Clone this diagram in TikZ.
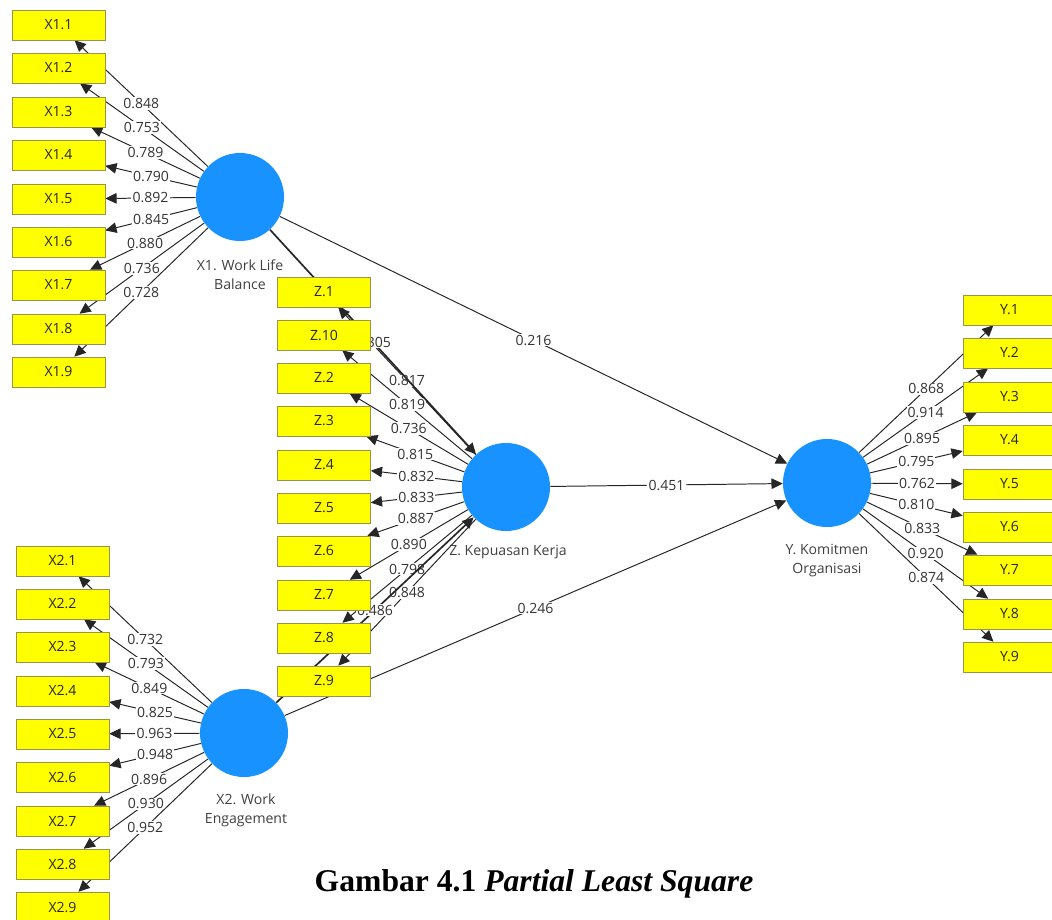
\documentclass[tikz,border=0pt]{standalone}
\usepackage{fontspec}
\setmainfont{Liberation Serif}
\newfontfamily\plsfont{Open Sans}
\usetikzlibrary{arrows.meta, backgrounds}
\definecolor{plsblue}{RGB}{24,146,255}
\definecolor{plsyellow}{RGB}{255,255,0}

\begin{document}
\begin{tikzpicture}[x = 0.025cm, y = -0.025cm,
    >= {Triangle[length = 8pt, width = 7.5pt]},
    indicator/.style = {draw = yellow!55!black, fill = plsyellow, minimum width = 2.325cm, minimum height = 0.75cm, inner sep = 0pt, font = \plsfont\fontsize{10}{12}\selectfont, text = black!85},
    construct/.style = {circle, fill = plsblue, minimum size = 2.2cm, inner sep = 0pt},
    construct label/.style = {align = center, font = \plsfont\fontsize{10}{13.5}\selectfont, text = black!75},
    loading/.style = {fill = white, inner sep = 0.8pt, font = \plsfont\fontsize{10}{12}\selectfont, text = black!80},
    link/.style = {->, draw = black!85, line width = 0.7pt}]
    \useasboundingbox (0, 0) rectangle (1052, 920);
    \clip (0, 0) rectangle (1052, 920);

    % latent variables
    \node[construct] (work life balance) at (240, 197) {};
    \node[construct] (kepuasan kerja) at (506, 487) {};
    \node[construct] (work engagement) at (244, 733) {};
    \node[construct] (komitmen organisasi) at (827, 483) {};
    \node[construct label] (work life balance label) at (240, 275) {X1. Work Life \\ Balance};
    \node[construct label] (kepuasan kerja label) at (508, 552) {Z. Kepuasan Kerja};
    \node[construct label] (work engagement label) at (246, 810) {X2. Work \\ Engagement};
    \node[construct label] (komitmen organisasi label) at (827, 561) {Y. Komitmen \\ Organisasi};

    % X1 indicators
    \node[indicator] (x1 1) at (58.5, 25) {X1.1};
    \node[indicator] (x1 2) at (58.5, 68) {X1.2};
    \node[indicator] (x1 3) at (58.5, 112) {X1.3};
    \node[indicator] (x1 4) at (58.5, 155) {X1.4};
    \node[indicator] (x1 5) at (58.5, 199) {X1.5};
    \node[indicator] (x1 6) at (58.5, 242) {X1.6};
    \node[indicator] (x1 7) at (58.5, 285) {X1.7};
    \node[indicator] (x1 8) at (58.5, 329) {X1.8};
    \node[indicator] (x1 9) at (58.5, 372) {X1.9};

    % Z indicators
    \node[indicator] (z 1) at (324, 292) {Z.1};
    \node[indicator] (z 10) at (324, 335) {Z.10};
    \node[indicator] (z 2) at (324, 378) {Z.2};
    \node[indicator] (z 3) at (324, 421) {Z.3};
    \node[indicator] (z 4) at (324, 465) {Z.4};
    \node[indicator] (z 5) at (324, 508) {Z.5};
    \node[indicator] (z 6) at (324, 551) {Z.6};
    \node[indicator] (z 7) at (324, 595) {Z.7};
    \node[indicator] (z 8) at (324, 638) {Z.8};
    \node[indicator] (z 9) at (324, 681) {Z.9};

    % X2 indicators
    \node[indicator] (x2 1) at (62.5, 561) {X2.1};
    \node[indicator] (x2 2) at (62.5, 604) {X2.2};
    \node[indicator] (x2 3) at (62.5, 647) {X2.3};
    \node[indicator] (x2 4) at (62.5, 691) {X2.4};
    \node[indicator] (x2 5) at (62.5, 734) {X2.5};
    \node[indicator] (x2 6) at (62.5, 777) {X2.6};
    \node[indicator] (x2 7) at (62.5, 821) {X2.7};
    \node[indicator] (x2 8) at (62.5, 864) {X2.8};
    \node[indicator] (x2 9) at (62.5, 907) {X2.9};

    % Y indicators
    \node[indicator] (y 1) at (1009.5, 310) {Y.1};
    \node[indicator] (y 2) at (1009.5, 353) {Y.2};
    \node[indicator] (y 3) at (1009.5, 397) {Y.3};
    \node[indicator] (y 4) at (1009.5, 440) {Y.4};
    \node[indicator] (y 5) at (1009.5, 484) {Y.5};
    \node[indicator] (y 6) at (1009.5, 527) {Y.6};
    \node[indicator] (y 7) at (1009.5, 570) {Y.7};
    \node[indicator] (y 8) at (1009.5, 614) {Y.8};
    \node[indicator] (y 9) at (1009.5, 657) {Y.9};

    \node[font = \bfseries\fontsize{22.5}{26}\selectfont] (caption) at (534, 884) {Gambar 4.1 \textit{Partial Least Square}};

    \begin{scope}[on background layer]
    % outer loadings
    \draw[link] (work life balance) -- node[loading] {0.848} (x1 1);
    \draw[link] (work life balance) -- node[loading] {0.753} (x1 2);
    \draw[link] (work life balance) -- node[loading] {0.789} (x1 3);
    \draw[link] (work life balance) -- node[loading] {0.790} (x1 4);
    \draw[link] (work life balance) -- node[loading] {0.892} (x1 5);
    \draw[link] (work life balance) -- node[loading] {0.845} (x1 6);
    \draw[link] (work life balance) -- node[loading] {0.880} (x1 7);
    \draw[link] (work life balance) -- node[loading] {0.736} (x1 8);
    \draw[link] (work life balance) -- node[loading] {0.728} (x1 9);

    \draw[link] (kepuasan kerja) -- node[loading] {0.817} (z 1);
    \draw[link] (kepuasan kerja) -- node[loading] {0.819} (z 10);
    \draw[link] (kepuasan kerja) -- node[loading] {0.736} (z 2);
    \draw[link] (kepuasan kerja) -- node[loading] {0.815} (z 3);
    \draw[link] (kepuasan kerja) -- node[loading] {0.832} (z 4);
    \draw[link] (kepuasan kerja) -- node[loading] {0.833} (z 5);
    \draw[link] (kepuasan kerja) -- node[loading] {0.887} (z 6);
    \draw[link] (kepuasan kerja) -- node[loading] {0.890} (z 7);
    \draw[link] (kepuasan kerja) -- node[loading] {0.798} (z 8);
    \draw[link] (kepuasan kerja) -- node[loading] {0.848} (z 9);

    \draw[link] (work engagement) -- node[loading] {0.732} (x2 1);
    \draw[link] (work engagement) -- node[loading] {0.793} (x2 2);
    \draw[link] (work engagement) -- node[loading] {0.849} (x2 3);
    \draw[link] (work engagement) -- node[loading] {0.825} (x2 4);
    \draw[link] (work engagement) -- node[loading] {0.963} (x2 5);
    \draw[link] (work engagement) -- node[loading] {0.948} (x2 6);
    \draw[link] (work engagement) -- node[loading] {0.896} (x2 7);
    \draw[link] (work engagement) -- node[loading] {0.930} (x2 8);
    \draw[link] (work engagement) -- node[loading] {0.952} (x2 9);

    \draw[link] (komitmen organisasi) -- node[loading] {0.868} (y 1);
    \draw[link] (komitmen organisasi) -- node[loading] {0.914} (y 2);
    \draw[link] (komitmen organisasi) -- node[loading] {0.895} (y 3);
    \draw[link] (komitmen organisasi) -- node[loading] {0.795} (y 4);
    \draw[link] (komitmen organisasi) -- node[loading] {0.762} (y 5);
    \draw[link] (komitmen organisasi) -- node[loading] {0.810} (y 6);
    \draw[link] (komitmen organisasi) -- node[loading] {0.833} (y 7);
    \draw[link] (komitmen organisasi) -- node[loading] {0.920} (y 8);
    \draw[link] (komitmen organisasi) -- node[loading] {0.874} (y 9);

    % path coefficients
    \draw[link, line width = 1.2pt] (work life balance) -- node[loading] {0.305} (kepuasan kerja);
    \draw[link, line width = 1.2pt] (work engagement) -- node[loading] {0.486} (kepuasan kerja);
    \draw[link] (work life balance) -- node[loading] {0.216} (komitmen organisasi);
    \draw[link] (kepuasan kerja) -- node[loading] {0.451} (komitmen organisasi);
    \draw[link] (work engagement) -- node[loading] {0.246} (komitmen organisasi);
    \end{scope}
\end{tikzpicture}
\end{document}
